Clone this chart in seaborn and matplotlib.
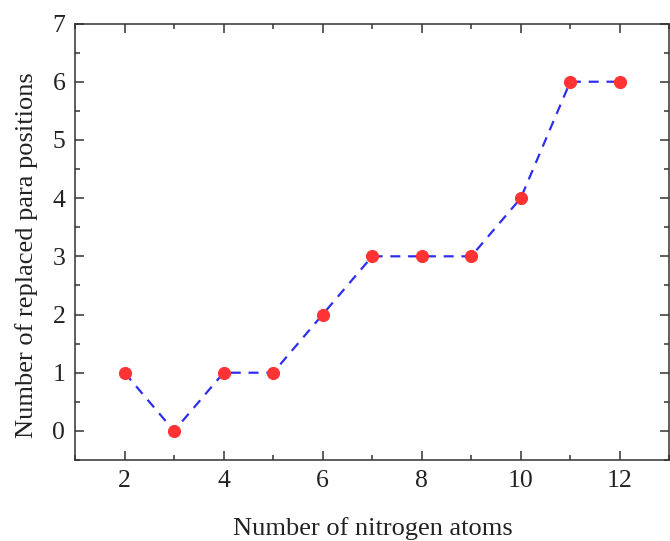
import matplotlib
matplotlib.use("Agg")
import matplotlib.pyplot as plt
import seaborn as sns
import pandas as pd
from matplotlib.ticker import MultipleLocator

nitrogen_atoms = [2, 3, 4, 5, 6, 7, 8, 9, 10, 11, 12]
para_positions = [1, 0, 1, 1, 2, 3, 3, 3, 4, 6, 6]
x_ticks = [2, 4, 6, 8, 10, 12]
y_ticks = [0, 1, 2, 3, 4, 5, 6, 7]

sns.set_style("ticks")
plt.rcParams['font.family'] = ['Liberation Serif', 'DejaVu Serif']
plt.rcParams['mathtext.fontset'] = 'stix'

df = pd.DataFrame({"n": nitrogen_atoms, "p": para_positions})

fig = plt.figure(figsize=(6.7, 5.41), dpi=100)
ax = fig.add_axes([0.112, 0.1497, 0.887, 0.8068])

sns.lineplot(data=df, x="n", y="p", ax=ax, color="#2E2EF0", linewidth=1.6,
             linestyle=(0, (4.5, 3.5)), marker="o", markersize=8.7,
             markerfacecolor="#FF3333", markeredgecolor="#FF3333", zorder=3)

ax.set_xlim(1, 13)
ax.set_ylim(-0.5, 7)
ax.set_xticks(x_ticks)
ax.set_yticks(y_ticks)
ax.xaxis.set_minor_locator(MultipleLocator(1))
ax.yaxis.set_minor_locator(MultipleLocator(0.5))
ax.tick_params(which="both", direction="in", top=True, right=True,
               colors="#333333", labelcolor="#222222", width=1.1)
ax.tick_params(which="major", length=6.5, labelsize=18.5, pad=7)
ax.tick_params(which="minor", length=3.5)
for s in ax.spines.values():
    s.set_visible(True)
    s.set_linewidth(1.1)
    s.set_color("#333333")

ax.set_xlabel("Number of nitrogen atoms", fontsize=19, color="#222222")
ax.set_ylabel("Number of replaced para positions", fontsize=19, color="#222222")
ax.xaxis.label.set_va("baseline")
ax.xaxis.set_label_coords(0.5008, -0.1718)
ax.yaxis.set_label_coords(-0.063, 0.4697)

fig.savefig("out.png", dpi=100)
